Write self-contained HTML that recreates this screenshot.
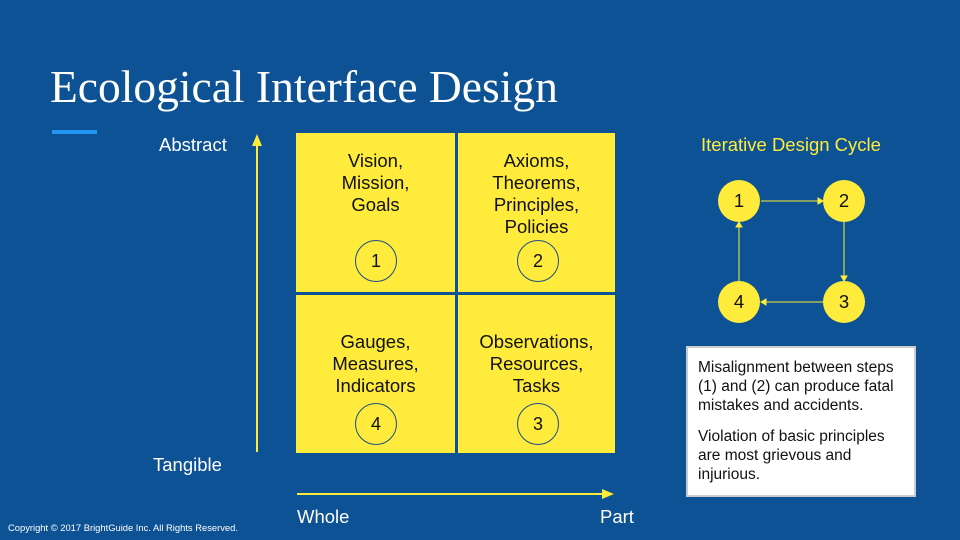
<!DOCTYPE html>
<html><head><meta charset="utf-8"><style>
body{margin:0;width:960px;height:540px;background:#0d5294;position:relative;overflow:hidden;font-family:"Liberation Sans",sans-serif;color:#fff}
.a{position:absolute}
.q{position:absolute;background:#ffeb3b;color:#111;font-size:18.5px;line-height:22px;text-align:center;width:159px;height:159px}
.c{position:absolute;width:40px;height:40px;border:1px solid #1a4f8a;border-radius:50%;left:59px;top:107px;text-align:center;line-height:40px;font-size:18px}
.n{position:absolute;width:42px;height:42px;border-radius:50%;background:#ffeb3b;color:#111;text-align:center;line-height:42px;font-size:18.5px}
</style></head><body>
<div class="a" style="left:50px;top:60px;font-family:'Liberation Serif',serif;font-size:45.5px;">Ecological Interface Design</div>
<div class="a" style="left:52px;top:130px;width:45px;height:4px;background:#2196f3"></div>
<div class="a" style="left:159px;top:134px;font-size:18.5px">Abstract</div>
<div class="a" style="left:153px;top:454px;font-size:18.5px">Tangible</div>
<div class="a" style="left:297px;top:506px;font-size:18.5px">Whole</div>
<div class="a" style="left:600px;top:506px;font-size:18.5px">Part</div>
<div class="a" style="left:8px;top:522px;font-size:9.4px">Copyright © 2017 BrightGuide Inc. All Rights Reserved.</div>
<svg class="a" style="left:0;top:0" width="960" height="540">
<line x1="257" y1="452" x2="257" y2="142" stroke="#ffeb3b" stroke-width="2"/>
<polygon points="252,146 262,146 257,134" fill="#ffeb3b"/>
<line x1="297" y1="494" x2="604" y2="494" stroke="#ffeb3b" stroke-width="2"/>
<polygon points="602,489 602,499 614,494" fill="#ffeb3b"/>
<g stroke="#ffeb3b" stroke-width="1" fill="#ffeb3b">
<line x1="761" y1="201" x2="818" y2="201"/><polygon points="818,198 818,204 823,201"/>
<line x1="844" y1="222" x2="844" y2="276"/><polygon points="841,276 847,276 844,281"/>
<line x1="823" y1="302" x2="766" y2="302"/><polygon points="766,299 766,305 761,302"/>
<line x1="739" y1="281" x2="739" y2="227"/><polygon points="736,227 742,227 739,222"/>
</g>
</svg>
<div class="q" style="left:296px;top:133px;"><div style="padding-top:17px">Vision,<br>Mission,<br>Goals</div><div class="c" style="top:107px">1</div></div>
<div class="q" style="left:458px;top:133px;width:157px"><div style="padding-top:17px">Axioms,<br>Theorems,<br>Principles,<br>Policies</div><div class="c" style="top:107px;left:59px">2</div></div>
<div class="q" style="left:296px;top:295px;height:158px"><div style="padding-top:36px">Gauges,<br>Measures,<br>Indicators</div><div class="c" style="top:108px">4</div></div>
<div class="q" style="left:458px;top:295px;width:157px;height:158px"><div style="padding-top:36px">Observations,<br>Resources,<br>Tasks</div><div class="c" style="top:108px;left:59px">3</div></div>
<div class="a" style="left:701px;top:134px;font-size:18.5px;color:#ffeb3b">Iterative Design Cycle</div>
<div class="n" style="left:718px;top:180px">1</div>
<div class="n" style="left:823px;top:180px">2</div>
<div class="n" style="left:823px;top:281px">3</div>
<div class="n" style="left:718px;top:281px">4</div>
<div class="a" style="left:686px;top:346px;background:#fff;border:2px solid #ccc;color:#111;font-size:15.5px;line-height:19px;padding:10px 14px 0 10px;box-sizing:content-box;width:202px;height:137px">
<div>Misalignment between steps (1) and (2) can produce fatal mistakes and accidents.</div>
<div style="margin-top:12px">Violation of basic principles are most grievous and injurious.</div>
</div>
</body></html>
